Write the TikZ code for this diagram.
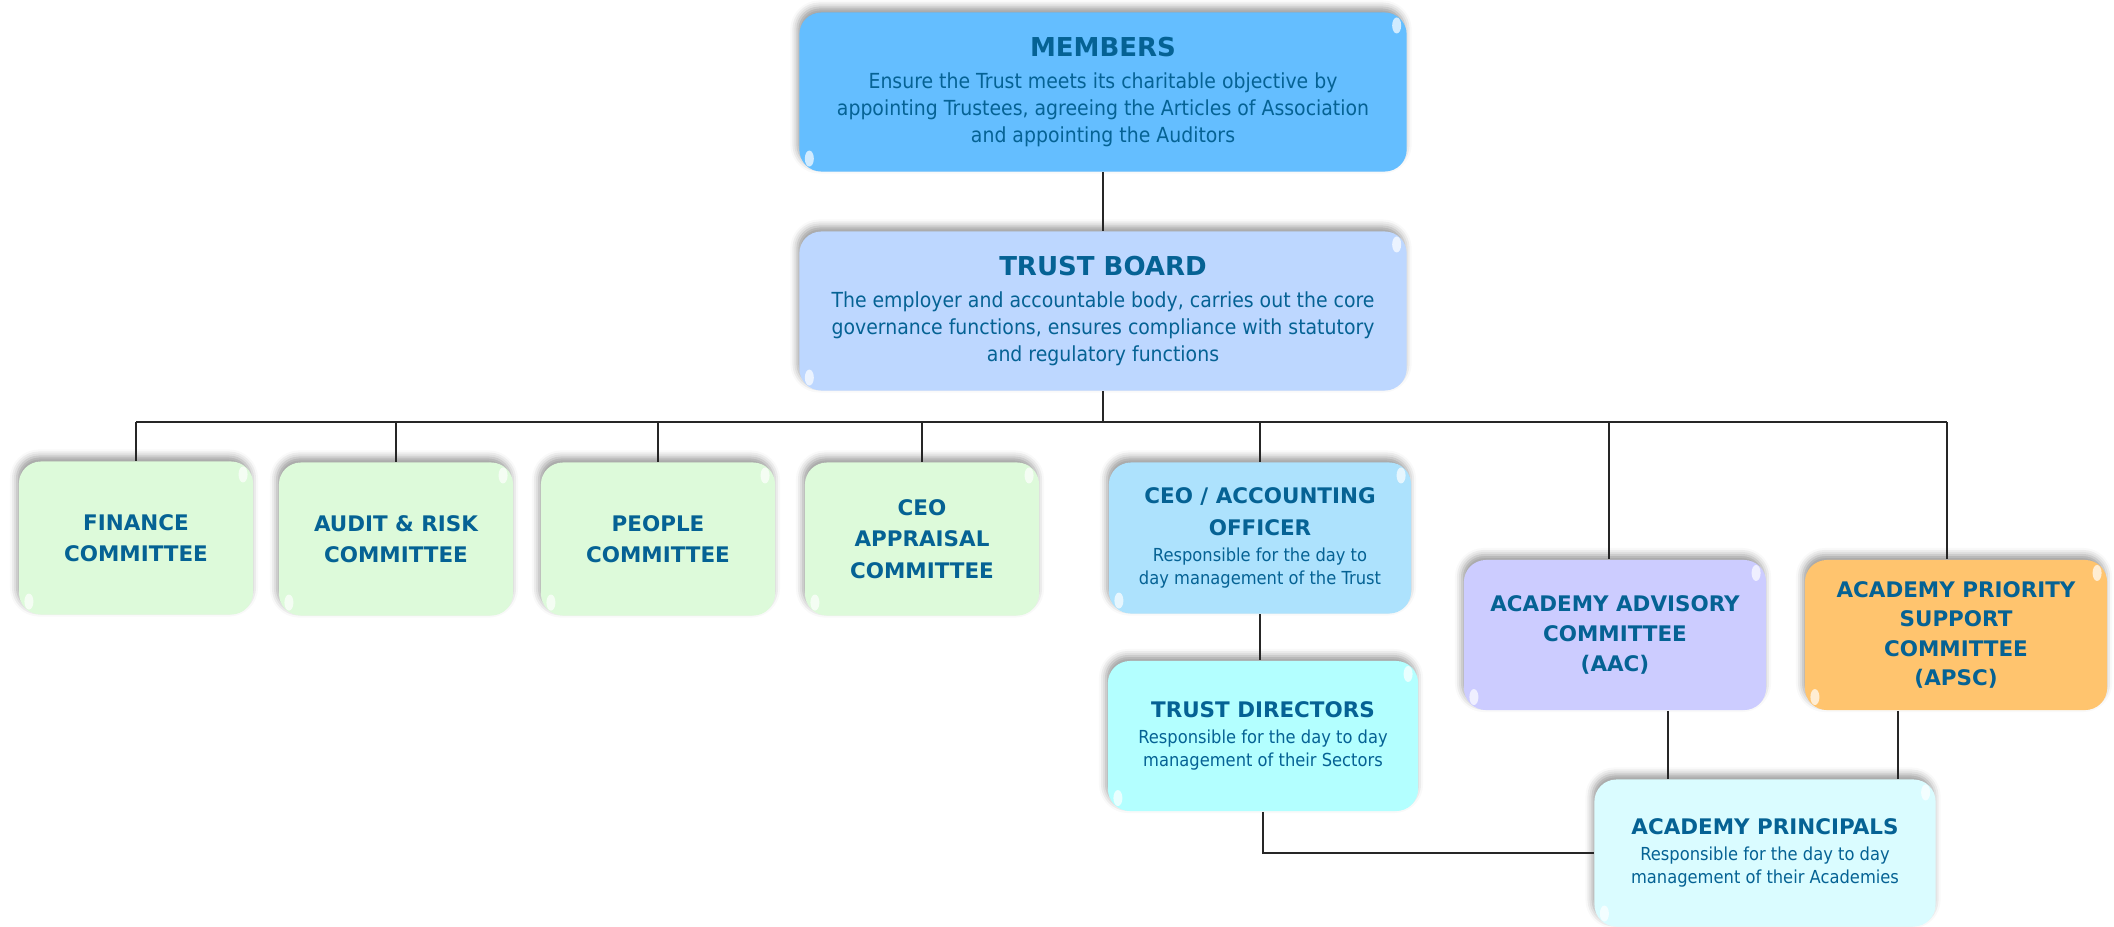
\documentclass[tikz,border=0pt]{standalone}
\usepackage{fontspec}
\setmainfont{DejaVu Sans}[UprightFeatures={FakeStretch=0.91}]
\usepackage{tikz}
\usetikzlibrary{shadows.blur}
\definecolor{memblue}{RGB}{100,190,255}
\definecolor{boardblue}{RGB}{189,215,255}
\definecolor{comgreen}{RGB}{221,250,218}
\definecolor{ceoblue}{RGB}{173,226,253}
\definecolor{aacpurple}{RGB}{204,204,255}
\definecolor{apscorange}{RGB}{255,196,110}
\definecolor{tdcyan}{RGB}{179,255,255}
\definecolor{apcyan}{RGB}{218,252,255}
\definecolor{txtblue}{RGB}{5,98,148}
\newcommand{\bighead}{\bfseries\fontsize{7.4}{9.1}\selectfont}
\newcommand{\bigbody}{\fontsize{5.9}{7.8}\selectfont}
\newcommand{\comhead}{\bfseries\fontsize{6.1}{8.9}\selectfont}
\newcommand{\smallbody}{\fontsize{5.1}{6.5}\selectfont}

\tikzset{
  orgbox/.style={rounded corners=0.22cm, align=center, text=txtblue, inner sep=1pt,
    blur shadow={shadow xshift=-0.02cm, shadow yshift=0.05cm, shadow blur radius=0.07cm, shadow opacity=40},
    path picture={
      \fill[white, opacity=0.7] ([shift={(-10,13)}]path picture bounding box.north east) ellipse [x radius=0.045cm, y radius=0.08cm];
      \fill[white, opacity=0.7] ([shift={(10,-13)}]path picture bounding box.south west) ellipse [x radius=0.045cm, y radius=0.08cm];
    }},
  topbox/.style={orgbox, minimum width=6.07cm, minimum height=1.59cm, font=\bigbody},
  combox/.style={orgbox, fill=comgreen, minimum width=2.34cm, minimum height=1.53cm, font=\comhead},
  sidebox/.style={orgbox, minimum width=3.02cm, minimum height=1.5cm, font=\smallbody},
  link/.style={draw=black!85, line width=0.45pt}
}

\begin{document}
\begin{tikzpicture}[x=0.01cm, y=-0.01cm]
\useasboundingbox (0,0) rectangle (2114,927);

% governance at the top
\node[topbox, fill=memblue] (members) at (1103,92) {{\bighead MEMBERS}\\[1.3pt]
  Ensure the Trust meets its charitable objective by\\
  appointing Trustees, agreeing the Articles of Association\\
  and appointing the Auditors};
\node[topbox, fill=boardblue] (board) at (1103,311) {{\bighead TRUST BOARD}\\[1.3pt]
  The employer and accountable body, carries out the core\\
  governance functions, ensures compliance with statutory\\
  and regulatory functions};

% board committees
\node[combox] (fin) at (136,538) {FINANCE\\COMMITTEE};
\node[combox] (audit) at (396,539) {AUDIT \& RISK\\COMMITTEE};
\node[combox] (people) at (658,539) {PEOPLE\\COMMITTEE};
\node[combox] (appraisal) at (922,539) {CEO\\APPRAISAL\\COMMITTEE};

% executive line
\node[sidebox, fill=ceoblue, minimum height=1.51cm] (ceo) at (1260,538) {{\comhead CEO / ACCOUNTING}\\[2.6pt]{\comhead OFFICER}\\[0.9pt]
  Responsible for the day to\\day management of the Trust};
\node[sidebox, fill=tdcyan, minimum width=3.1cm] (td) at (1263,736) {{\comhead TRUST DIRECTORS}\\[0.9pt]
  Responsible for the day to day\\management of their Sectors};

% academy committees
\node[sidebox, fill=aacpurple, font=\comhead] (aac) at (1615,635) {ACADEMY ADVISORY\\[-0.4pt]COMMITTEE\\[-0.4pt](AAC)};
\node[sidebox, fill=apscorange, font=\comhead] (apsc) at (1956,635) {ACADEMY PRIORITY\\[-0.6pt]SUPPORT\\[-0.6pt]COMMITTEE\\[-0.6pt](APSC)};
\node[sidebox, fill=apcyan, minimum width=3.41cm, minimum height=1.47cm] (ap) at (1765,853) {{\comhead ACADEMY PRINCIPALS}\\[0.9pt]
  Responsible for the day to day\\management of their Academies};

% connectors
\coordinate (bus) at (1103,422);
\draw[link] (members) -- (board);
\draw[link] (board) -- (bus);
\draw[link] (fin.north |- bus) -- ([xshift=-0.09cm]apsc.north |- bus);
\foreach \n in {fin,audit,people,appraisal,ceo}
  \draw[link] (\n.north |- bus) -- (\n.north);
\draw[link] ([xshift=-0.06cm]aac.north |- bus) -- ([xshift=-0.06cm]aac.north);
\draw[link] ([xshift=-0.09cm]apsc.north |- bus) -- ([xshift=-0.09cm]apsc.north);
\draw[link] (ceo.south) -- (ceo.south |- td.north);
\draw[link] (td.south) |- (ap.west);
\draw[link] ([xshift=0.53cm]aac.south) -- ([xshift=0.53cm]aac.south |- ap.north);
\draw[link] ([xshift=-0.58cm]apsc.south) -- ([xshift=-0.58cm]apsc.south |- ap.north);

\end{tikzpicture}
\end{document}
